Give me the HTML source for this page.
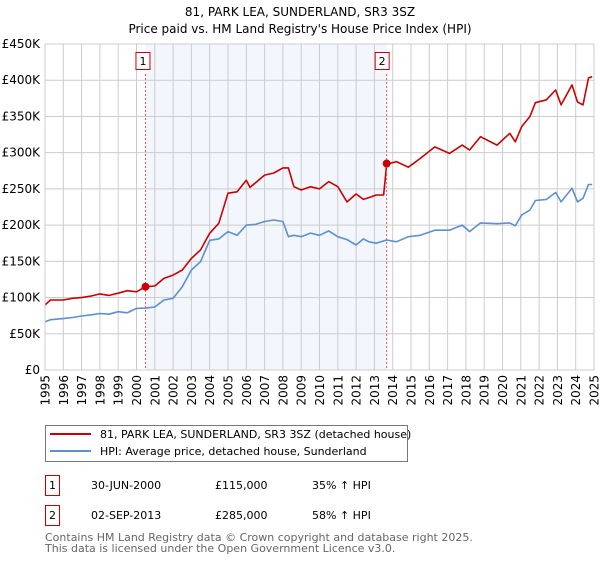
<!DOCTYPE html>
<html><head><meta charset="utf-8"><style>
body{margin:0;background:#fff;}
svg{font-family:"DejaVu Sans","Liberation Sans",sans-serif;}
</style></head><body>
<svg id="c" width="600" height="560" xmlns="http://www.w3.org/2000/svg">
<text x="300" y="16" text-anchor="middle" font-size="12" fill="#000">81, PARK LEA, SUNDERLAND, SR3 3SZ</text>
<text x="300" y="33" text-anchor="middle" font-size="12" fill="#000">Price paid vs. HM Land Registry's House Price Index (HPI)</text>
<g id="plot"></g>
<g>
<rect x="45.5" y="425.5" width="362" height="36" fill="#fff" stroke="#777"/>
<line x1="50" y1="434" x2="91" y2="434" stroke="#cc0000" stroke-width="2"/>
<text x="100" y="438" font-size="11">81, PARK LEA, SUNDERLAND, SR3 3SZ (detached house)</text>
<line x1="50" y1="451" x2="91" y2="451" stroke="#5b8fd6" stroke-width="2"/>
<text x="100" y="455" font-size="11">HPI: Average price, detached house, Sunderland</text>
</g>
<g font-size="11">
<rect x="45.5" y="475.5" width="14" height="20" fill="#fff" stroke="#cc0000"/>
<text x="49" y="489">1</text>
<text x="91" y="489">30-JUN-2000</text>
<text x="215" y="489">£115,000</text>
<text x="312" y="489">35% ↑ HPI</text>
<rect x="45.5" y="505.5" width="14" height="20" fill="#fff" stroke="#cc0000"/>
<text x="49" y="519">2</text>
<text x="91" y="519">02-SEP-2013</text>
<text x="215" y="519">£285,000</text>
<text x="312" y="519">58% ↑ HPI</text>
</g>
<text x="45" y="541" font-size="11" fill="#666">Contains HM Land Registry data © Crown copyright and database right 2025.</text>
<text x="45" y="552" font-size="11" fill="#666">This data is licensed under the Open Government Licence v3.0.</text>
</svg>
<script>
const yTicks=[0,50000,100000,150000,200000,250000,300000,350000,400000,450000];
const yTickLabels=["£0","£50K","£100K","£150K","£200K","£250K","£300K","£350K","£400K","£450K"];
const xYears=[1995,1996,1997,1998,1999,2000,2001,2002,2003,2004,2005,2006,2007,2008,2009,2010,2011,2012,2013,2014,2015,2016,2017,2018,2019,2020,2021,2022,2023,2024,2025];
const saleYears=[2000.49,2013.67];
const salePrices=[115000,285000];
const saleLabels=["1","2"];
const hpiYears=[1995,1995.3,1996,1996.5,1997,1997.5,1998,1998.5,1999,1999.5,2000,2000.5,2001,2001.5,2002,2002.5,2003,2003.5,2004,2004.5,2005,2005.5,2006,2006.5,2007,2007.5,2008,2008.3,2008.6,2009,2009.5,2010,2010.5,2011,2011.5,2012,2012.4,2012.7,2013.1,2013.67,2014.2,2014.85,2015.5,2016.3,2017.1,2017.8,2018.2,2018.8,2019.7,2020.4,2020.7,2021.05,2021.5,2021.8,2022.4,2022.9,2023.2,2023.8,2024.1,2024.4,2024.7,2024.9];
const hpiValues=[66700,69500,71000,72500,74500,76000,78000,77000,80500,79000,85000,85500,87000,96600,99000,115000,138000,149500,179000,181000,191000,186000,200000,201000,205000,207000,205000,184000,186000,184000,189000,186000,192000,184000,180000,172500,181000,177000,175000,179500,177000,184000,186000,193000,193000,200000,191000,203000,202000,203000,199000,214000,221000,234000,235500,245000,232000,251000,232000,237000,256000,256000];
const ppYears=[1995,1995.3,1996,1996.5,1997,1997.5,1998,1998.5,1999,1999.5,2000,2000.49,2001,2001.5,2002,2002.5,2003,2003.5,2004,2004.5,2005,2005.5,2006,2006.2,2007,2007.5,2008,2008.3,2008.6,2009,2009.5,2010,2010.5,2011,2011.5,2012,2012.4,2012.7,2013.1,2013.5,2013.67,2014.2,2014.85,2015.5,2016.3,2017.1,2017.8,2018.2,2018.8,2019.7,2020.4,2020.7,2021.05,2021.5,2021.8,2022.4,2022.9,2023.2,2023.8,2024.1,2024.4,2024.7,2024.9];
const ppValues=[89700,96600,96600,99000,100000,102000,105000,103000,106000,109500,108000,115000,116000,126500,131000,138000,154000,165600,188700,202500,244000,246000,262000,252000,269000,272000,279000,279000,253000,248500,253000,250000,260000,253000,232000,243000,235500,238000,241500,241500,284000,287600,280000,292000,308000,299000,310500,303700,322000,310500,326700,315000,336000,350000,369000,373000,386500,366000,393500,370000,366000,403000,405000];

const X0=45,X1=594,Y0=370,Y1=44;
const xs=y=>X0+(y-1995)/30*(X1-X0);
const ys=v=>Y0-v/450000*(Y0-Y1);
const NS="http://www.w3.org/2000/svg";
const plot=document.getElementById('plot');
function mk(tag,attrs,parent){const e=document.createElementNS(NS,tag);for(const k in attrs)e.setAttribute(k,attrs[k]);(parent||plot).appendChild(e);return e;}
let e;
e=mk('rect',{x:X0,y:Y1,width:X1-X0,height:Y0-Y1,fill:'#fff'});


e=mk('rect',{x:xs(saleYears[0]),y:Y1,width:xs(saleYears[1])-xs(saleYears[0]),height:Y0-Y1,fill:'#f3f6fd'});


xYears.forEach((yr,i)=>{
 e=mk('line',{x1:xs(yr),x2:xs(yr),y1:Y1,y2:Y0,stroke:'#cccccc','stroke-width':1});
 
 
 const tx=xs(yr)+4.5, ty=375;
 e=mk('text',{x:tx,y:ty,'text-anchor':'end','font-size':12,transform:'rotate(-90 '+tx+' '+ty+')'});
 e.textContent=yr;
 
 
});
yTicks.forEach((v,i)=>{
 e=mk('line',{x1:X0,x2:X1,y1:ys(v),y2:ys(v),stroke:'#cccccc','stroke-width':1});
 
 
 e=mk('text',{x:40,y:ys(v)+4,'text-anchor':'end','font-size':12});
 e.textContent=yTickLabels[i];
 
 
});
function path(xa,va,color,name){
 const d=xa.map((x,i)=>(i?'L':'M')+xs(x).toFixed(1)+','+ys(va[i]).toFixed(1)).join('');
 const p=mk('path',{d:d,fill:'none',stroke:color,'stroke-width':1.6,'stroke-linejoin':'round'});
 
 
}
path(hpiYears,hpiValues,'#5b8fd6','hpi-line');
path(ppYears,ppValues,'#cc0000','price-paid-line');
saleYears.forEach((yr,i)=>{
 e=mk('line',{x1:xs(yr),x2:xs(yr),y1:Y1+30,y2:Y0,stroke:'#ee5555','stroke-width':1,'stroke-dasharray':'2,2'});
 
 
 e=mk('circle',{cx:xs(yr),cy:ys(salePrices[i]),r:4,fill:'#cc0000'});
 
 
 e=mk('rect',{x:xs(yr)-9.5+(i?-2:0),y:52.5,width:14,height:17,fill:'#fff',stroke:'#cc0000'});
 
 
 e=mk('text',{x:xs(yr)-2.5+(i?-2:0),y:65,'text-anchor':'middle','font-size':11});
 e.textContent=saleLabels[i];
 
 
});
e=mk('rect',{x:X0,y:Y1,width:X1-X0,height:Y0-Y1,fill:'none',stroke:'#cccccc'});


</script>
</body></html>
